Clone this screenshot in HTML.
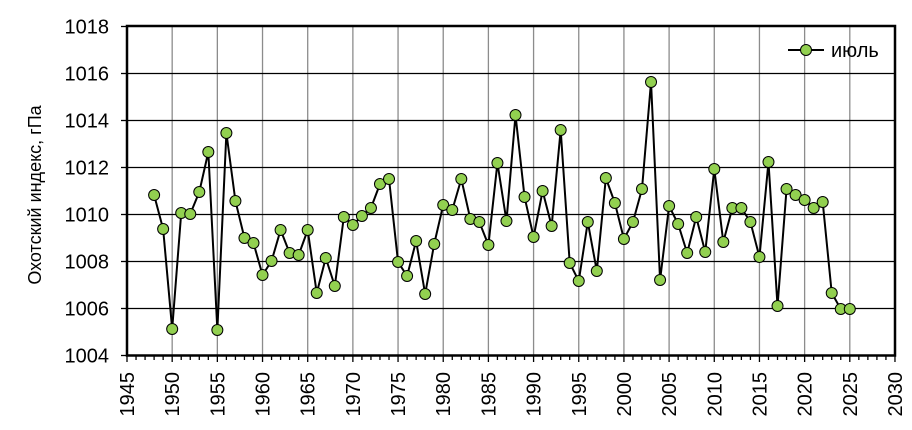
<!DOCTYPE html>
<html><head><meta charset="utf-8"><style>
html,body{margin:0;padding:0;background:#fff;width:912px;height:430px;overflow:hidden}
svg text{font-family:"Liberation Sans",Arial,sans-serif;fill:#000}
</style></head><body>
<svg width="912" height="430" viewBox="0 0 912 430" xmlns="http://www.w3.org/2000/svg">
<g id="g"></g>
</svg>
<script>
const NS="http://www.w3.org/2000/svg",g=document.getElementById('g');
function el(t,a,txt){const e=document.createElementNS(NS,t);for(const k in a)e.setAttribute(k,a[k]);if(txt!==undefined)e.textContent=txt;g.appendChild(e);return e;}
const X=y=>127+(y-1945)*9.035, Y=v=>355.5-(v-1004)*23.5;
for(let yr=1950;yr<2030;yr+=5)el('line',{x1:X(yr),x2:X(yr),y1:26,y2:355,stroke:'#8c8c8c','stroke-width':1.3});
for(let v=1006;v<=1016;v+=2)el('line',{x1:127,x2:895,y1:Y(v),y2:Y(v),stroke:'#000','stroke-width':1.3});
el('rect',{x:127,y:26,width:768,height:329.5,fill:'none',stroke:'#000','stroke-width':2.5});
for(let v=1004;v<=1018;v+=2){el('line',{x1:121,x2:127,y1:Y(v),y2:Y(v),stroke:'#000','stroke-width':1.3});
el('text',{x:109,y:Y(v)+7,'font-size':20,'text-anchor':'end'},String(v));}
for(let yr=1945;yr<=2030;yr++){el('line',{x1:X(yr),x2:X(yr),y1:355,y2:yr%5?360:362,stroke:'#000','stroke-width':1.3});}
for(let yr=1945;yr<=2030;yr+=5){el('text',{x:0,y:0,'font-size':20,'text-anchor':'end',transform:`translate(${X(yr)+7},372) rotate(-90)`},String(yr));}
el('text',{x:0,y:0,'font-size':18,'text-anchor':'middle',transform:'translate(41,195) rotate(-90)'},'Охотский индекс, гПа');
const py=[195,229,329,213,214,192,152,330,133,201,238,243,275,261,230,253,255,230,293,258,286,217,225,216,208,184,179,262,276,241,294,244,205,210,179,219,222,245,163,221,115,197,237,191,226,130,263,281,222,271,178,203,239,222,189,82,280,206,224,253,217,252,169,242,208,208,222,257,162,306,189,195,200,208,202,293,309,309];
const pts=py.map((y,i)=>[X(1948+i),y]);
el('polyline',{points:pts.map(p=>p.join(',')).join(' '),fill:'none',stroke:'#000','stroke-width':2});
pts.forEach(p=>el('circle',{cx:p[0],cy:p[1],r:5.5,fill:'#92d050',stroke:'#000','stroke-width':1}));
el('line',{x1:788,x2:824,y1:50,y2:50,stroke:'#000','stroke-width':2});
el('circle',{cx:806,cy:50,r:5.5,fill:'#92d050',stroke:'#000','stroke-width':1});
el('text',{x:831,y:57,'font-size':20},'июль');
</script>
</body></html>
